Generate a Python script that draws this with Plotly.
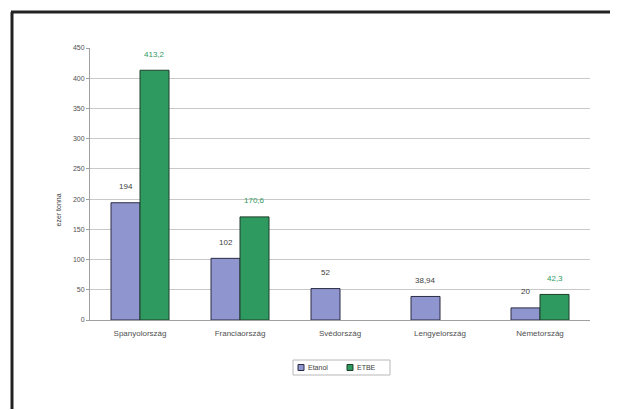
import plotly.graph_objects as go

# Bioethanol and ETBE volumes by country (thousand tonnes)
categories = ["Spanyolország", "Franciaország", "Svédország", "Lengyelország", "Németország"]
etanol = [194, 102, 52, 38.94, 20]
etbe = [413.2, 170.6, None, None, 42.3]
y_ticks = [0, 50, 100, 150, 200, 250, 300, 350, 400, 450]
series_names = ["Etanol", "ETBE"]

BLUE = "#8f96cf"
GREEN = "#2f9a5f"
BLUE_EDGE = "#2b2b45"
GREEN_EDGE = "#1d3d2a"
TEXT = "#505050"
FONT = "Liberation Sans, Arial, sans-serif"

W, H = 618, 410
L, R, T, B = 90, 28, 48, 90


def fmt(v):
    # Hungarian decimal comma
    s = ("%g" % v)
    return s.replace(".", ",")


fig = go.Figure()
fig.add_trace(go.Bar(name=series_names[0], x=categories, y=etanol,
                     marker=dict(color=BLUE, line=dict(color=BLUE_EDGE, width=1))))
fig.add_trace(go.Bar(name=series_names[1], x=categories, y=etbe,
                     marker=dict(color=GREEN, line=dict(color=GREEN_EDGE, width=1))))

annotations = []
half = 14.5
for cat, v in zip(categories, etanol):
    if v is not None:
        annotations.append(dict(x=cat, y=v, text=fmt(v), showarrow=False, xshift=-half,
                                yshift=16, yanchor="middle",
                                font=dict(family=FONT, size=8, color="#404040")))
for cat, v in zip(categories, etbe):
    if v is not None:
        annotations.append(dict(x=cat, y=v, text=fmt(v), showarrow=False, xshift=half,
                                yshift=16, yanchor="middle",
                                font=dict(family=FONT, size=8, color=GREEN)))

pw = W - L - R
ph = H - T - B
def px_x(px):
    return (px - L) / pw
def px_y(py):
    return (H - B - py) / ph

# axis title
annotations.append(dict(xref="paper", yref="paper", x=px_x(52), y=px_y(210),
                        text="ezer tonna", textangle=-90, showarrow=False,
                        font=dict(family=FONT, size=7, color="#404040")))

# outer frame: left and top edges
shapes = [
    dict(type="line", xref="paper", yref="paper", x0=px_x(12), x1=px_x(12), y0=px_y(409), y1=px_y(12),
         line=dict(color="#222222", width=3)),
    dict(type="line", xref="paper", yref="paper", x0=px_x(11), x1=px_x(610), y0=px_y(12), y1=px_y(12),
         line=dict(color="#222222", width=3)),
]

# compact legend box below the plot
shapes.append(dict(type="rect", xref="paper", yref="paper",
                   x0=px_x(293), x1=px_x(390), y0=px_y(375), y1=px_y(360),
                   line=dict(color="#b8b8b8", width=1), fillcolor="white"))
legend_items = [(series_names[0], BLUE, BLUE_EDGE, 298), (series_names[1], GREEN, GREEN_EDGE, 347)]
for name, fill, edge, x0 in legend_items:
    shapes.append(dict(type="rect", xref="paper", yref="paper",
                       x0=px_x(x0), x1=px_x(x0 + 6), y0=px_y(370.5), y1=px_y(364.5),
                       line=dict(color=edge, width=1), fillcolor=fill))
    annotations.append(dict(xref="paper", yref="paper", x=px_x(x0 + 8), y=px_y(367.5),
                            xanchor="left", yanchor="middle", text=name, showarrow=False,
                            font=dict(family=FONT, size=7, color="#404040")))

fig.update_layout(
    width=W, height=H,
    margin=dict(l=L, r=R, t=T, b=B),
    paper_bgcolor="white", plot_bgcolor="white",
    barmode="group", bargap=0.42, bargroupgap=0,
    font=dict(family=FONT, size=8, color=TEXT),
    showlegend=False,
    annotations=annotations,
    shapes=shapes,
    xaxis=dict(showline=True, linecolor="#a0a0a0", linewidth=1, ticks="", ticklabelstandoff=5,
               tickfont=dict(size=8, color=TEXT), showgrid=False),
    yaxis=dict(range=[0, 450], tickvals=y_ticks, showline=True, linecolor="#a0a0a0", linewidth=1,
               ticks="outside", ticklen=3, tickcolor="#a0a0a0", showgrid=True, gridcolor="#c8c8c8",
               gridwidth=1, zeroline=False, tickfont=dict(size=7, color=TEXT)),
)

fig.write_html("out.html")
